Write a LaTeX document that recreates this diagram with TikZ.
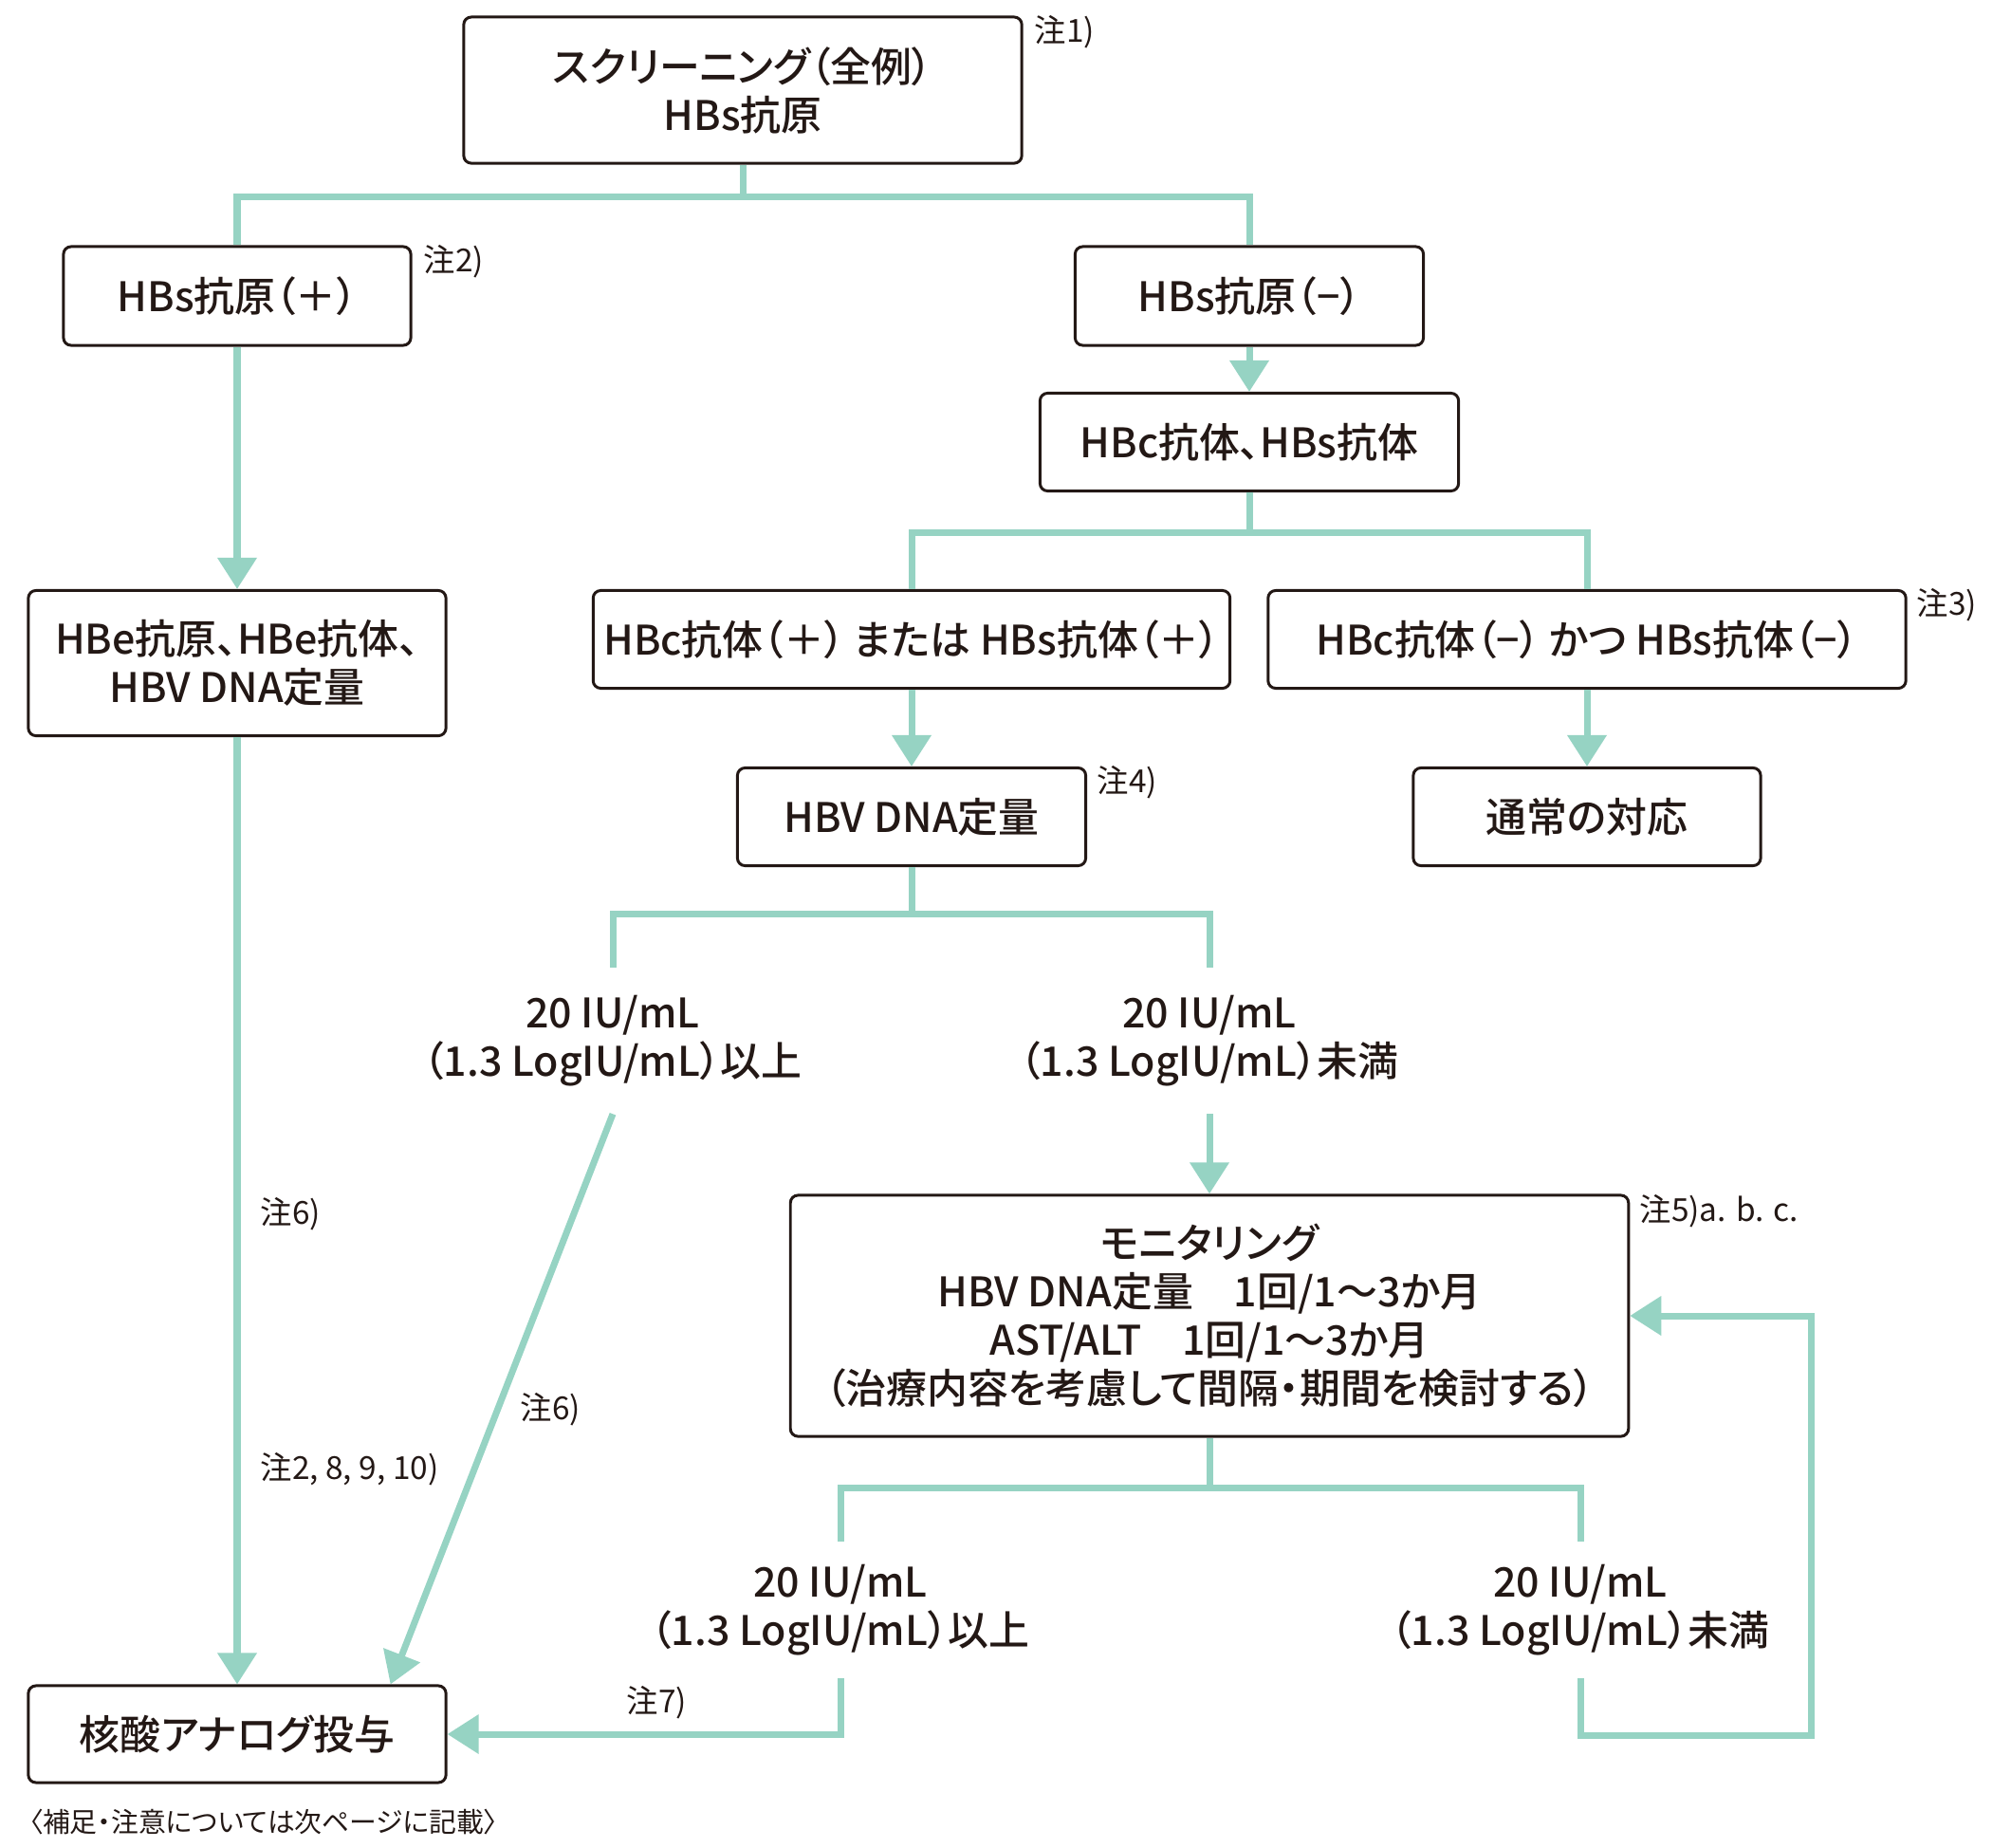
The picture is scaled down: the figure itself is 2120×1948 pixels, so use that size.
\documentclass[tikz,border=0pt]{standalone}
\usepackage{fontspec}
\setmainfont{Noto Sans CJK JP}[BoldFont={Noto Sans CJK JP Medium}, RawFeature=+palt]
\usepackage{tikz}
\usetikzlibrary{arrows.meta,positioning,calc}
\definecolor{Mint}{HTML}{96D3C3}
\definecolor{Ink}{HTML}{231815}
\tikzset{
    stepbox/.style={
        draw=Ink, line width=0.85pt, rounded corners=0.08cm,
        align=center, text=Ink, inner sep=0pt,
        font=\fontsize{12.2}{14.5}\selectfont\bfseries
    },
    condtext/.style={
        align=center, text=Ink, inner sep=0pt,
        font=\fontsize{12.2}{14.5}\selectfont\bfseries
    },
    notetext/.style={
        anchor=west, inner sep=0pt, text=Ink,
        font=\fontsize{9.5}{11}\selectfont
    },
    flowline/.style={draw=Mint, line width=0.07cm},
    flowarrow/.style={flowline, -{Triangle[length=0.33cm,width=0.40cm]}},
}
\begin{document}
\begin{tikzpicture}[x=0.01cm, y=-0.01cm]
    \useasboundingbox (0,0) rectangle (2120,1948);

    % Boxes
    \node[stepbox, minimum width=5.88cm, minimum height=1.54cm] (screen) at (783,95) {スクリーニング（全例）\\HBs抗原};
    \node[stepbox, minimum width=3.66cm, minimum height=1.04cm] (hbsp) at (250,312) {HBs抗原（＋）};
    \node[stepbox, minimum width=3.67cm, minimum height=1.04cm] (hbsn) at (1317,312) {HBs抗原（−）};
    \node[stepbox, minimum width=4.41cm, minimum height=1.03cm] (hbcs) at (1317,466) {HBc抗体、HBs抗体};
    \node[stepbox, minimum width=6.71cm, minimum height=1.03cm] (either) at (961,674) {HBc抗体（＋） または HBs抗体（＋）};
    \node[stepbox, minimum width=6.72cm, minimum height=1.03cm] (neither) at (1673,674) {HBc抗体（−） かつ HBs抗体（−）};
    \node[stepbox, minimum width=4.40cm, minimum height=1.53cm] (hbe) at (250,699) {HBe抗原、HBe抗体、\\HBV DNA定量};
    \node[stepbox, minimum width=3.67cm, minimum height=1.03cm] (dna) at (961,861) {HBV DNA定量};
    \node[stepbox, minimum width=3.66cm, minimum height=1.03cm] (usual) at (1673,861) {通常の対応};
    \node[stepbox, minimum width=8.83cm, minimum height=2.54cm] (monitor) at (1275,1387)
        {モニタリング\\HBV DNA定量　1回/1〜3か月\\AST/ALT　1回/1〜3か月\\（治療内容を考慮して間隔・期間を検討する）};
    \node[stepbox, minimum width=4.40cm, minimum height=1.02cm] (nuc) at (250,1828) {核酸アナログ投与};

    % Thresholds
    \node[condtext, minimum height=1.53cm] (hiA) at (646,1097) {20 IU/mL\\（1.3 LogIU/mL）以上};
    \node[condtext, minimum height=1.53cm] (loA) at (1275,1097) {20 IU/mL\\（1.3 LogIU/mL）未満};
    \node[condtext, minimum height=1.42cm] (hiB) at (886,1697) {20 IU/mL\\（1.3 LogIU/mL）以上};
    \node[condtext, minimum height=1.42cm] (loB) at (1666,1697) {20 IU/mL\\（1.3 LogIU/mL）未満};

    % Branch points
    \coordinate (splitA) at (783,207);
    \coordinate (splitB) at (1317,561);
    \coordinate (splitC) at (961,963);
    \coordinate (splitD) at (1275,1568);
    \coordinate (loopC) at (1909,1829);

    % Connectors
    \draw[flowline] (screen.south) -- (splitA);
    \draw[flowline] (hbsp.north) |- (splitA) -| (hbsn.north);
    \draw[flowarrow] (hbsn.south) -- (hbcs.north);
    \draw[flowline] (hbcs.south) -- (splitB);
    \draw[flowline] (either.north) |- (splitB) -| (neither.north);
    \draw[flowarrow] (either.south) -- (dna.north);
    \draw[flowarrow] (neither.south) -- (usual.north);
    \draw[flowarrow] (hbsp.south) -- (hbe.north);
    \draw[flowarrow] (hbe.south) -- (nuc.north);
    \draw[flowline] (dna.south) -- (splitC);
    \draw[flowline] (hiA.north) |- (splitC) -| (loA.north);
    \draw[flowarrow] (hiA.south) -- ($(nuc.north east)+(-60,0)$);
    \draw[flowarrow] (loA.south) -- (monitor.north);
    \draw[flowline] (monitor.south) -- (splitD);
    \draw[flowline] (hiB.north) |- (splitD) -| (loB.north);
    \draw[flowarrow] (hiB.south) |- (nuc.east);
    \draw[flowarrow] (loB.south) |- (loopC) |- (monitor.east);

    % Notes
    \node[notetext] (n1) at (1090,34) {注1)};
    \node[notetext] (n2) at (446,276) {注2)};
    \node[notetext] (n3) at (2020,638) {注3)};
    \node[notetext] (n4) at (1156,825) {注4)};
    \node[notetext] (n5) at (1728,1277) {注5)a. b. c.};
    \node[notetext] (n6a) at (274,1280) {注6)};
    \node[notetext] (n6b) at (548,1486) {注6)};
    \node[notetext] (n8) at (274,1549) {注2, 8, 9, 10)};
    \node[notetext] (n7) at (660,1795) {注7)};
    \node[notetext, font=\fontsize{8.2}{10}\selectfont] (foot) at (30,1921) {〈補足・注意については次ページに記載〉};
\end{tikzpicture}
\end{document}
